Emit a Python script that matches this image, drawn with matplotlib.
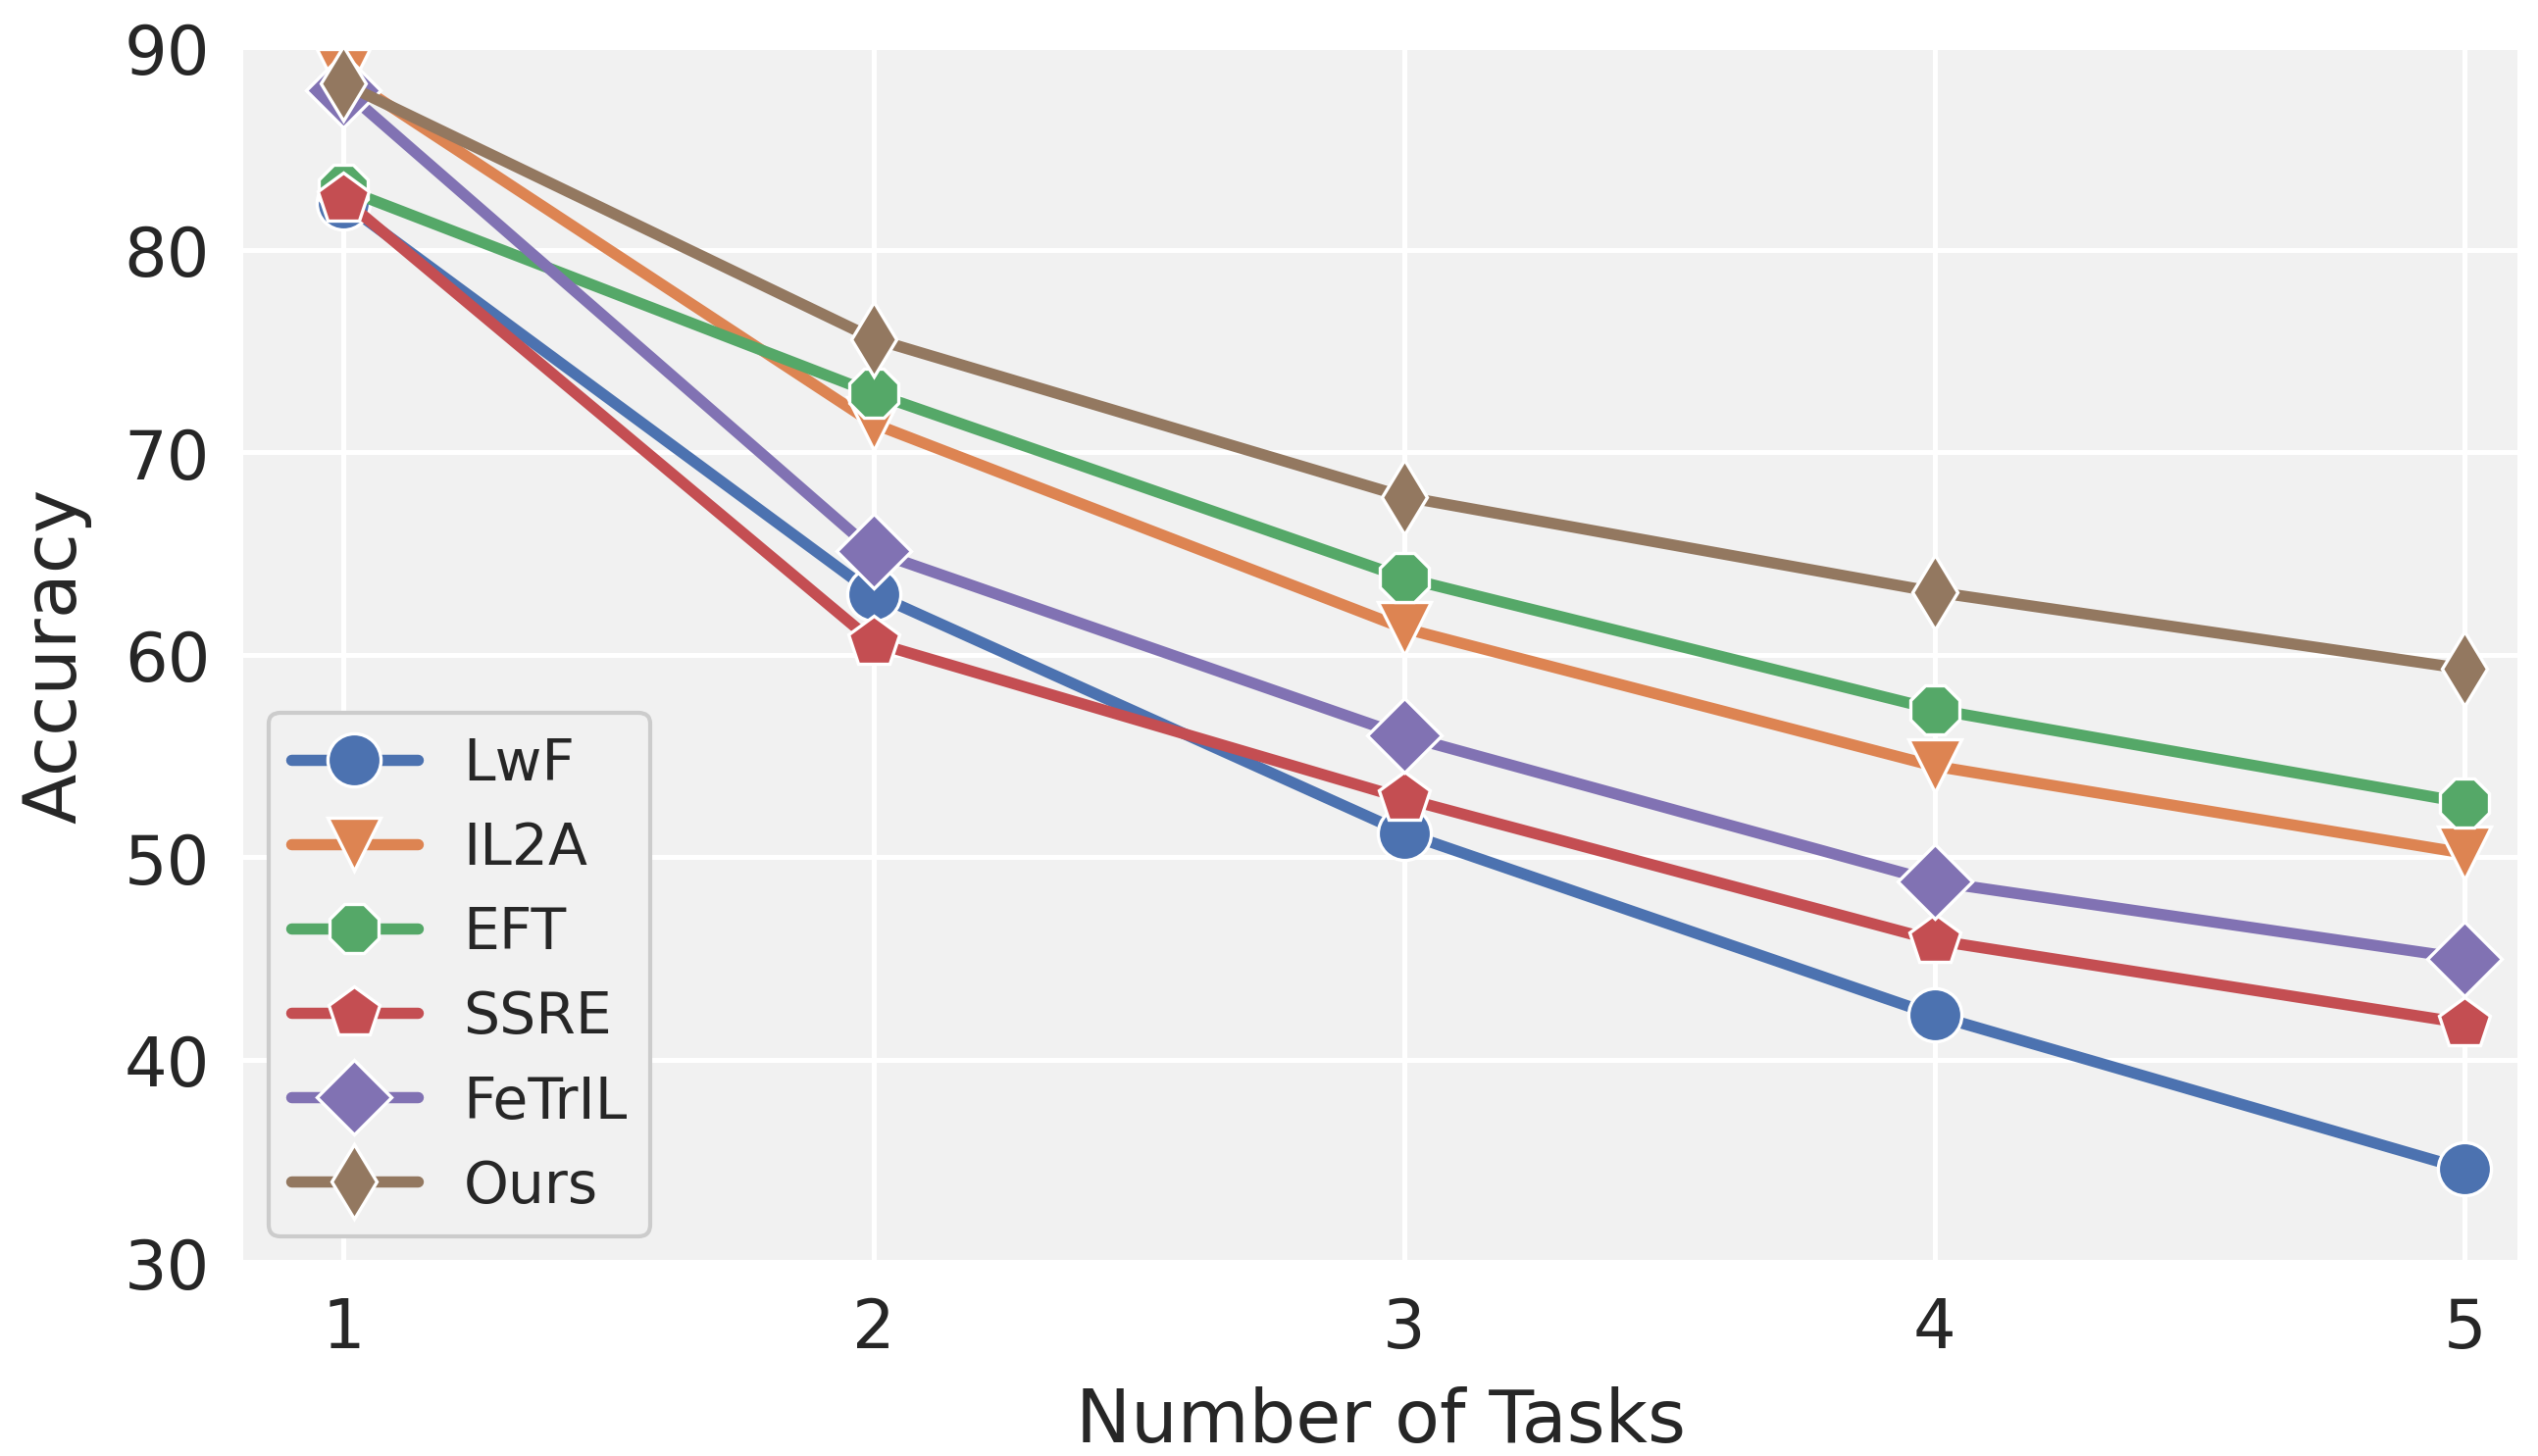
"""Accuracy vs. number of tasks for incremental-learning methods."""

import matplotlib

matplotlib.use("Agg")
import matplotlib.pyplot as plt
import numpy as np

plt.rcParams.update(
    {
        "font.family": ["DejaVu Sans"],
        "axes.facecolor": "#f1f1f1",
        "axes.edgecolor": "white",
        "axes.grid": True,
        "grid.color": "white",
        "grid.linewidth": 1.2,
        "axes.axisbelow": True,
        "text.color": "#262626",
        "axes.labelcolor": "#262626",
        "xtick.color": "#262626",
        "ytick.color": "#262626",
    }
)

tasks = [1, 2, 3, 4, 5]
methods = ["LwF", "IL2A", "EFT", "SSRE", "FeTrIL", "Ours"]
lwf = [82.3, 63.0, 51.2, 42.2, 34.6]
il2a = [88.6, 71.4, 61.3, 54.5, 50.2]
eft = [83.0, 72.9, 63.8, 57.3, 52.7]
ssre = [82.5, 60.6, 52.9, 45.9, 41.8]
fetril = [87.9, 65.1, 56.0, 48.8, 45.0]
ours = [88.2, 75.6, 67.8, 63.1, 59.3]

series = [lwf, il2a, eft, ssre, fetril, ours]
colors = ["#4c72b0", "#dd8452", "#55a868", "#c44e52", "#8172b3", "#937860"]
markers = ["o", "v", "8", "p", "D", "d"]

fig = plt.figure(figsize=(8.627, 4.953), dpi=300)
ax = fig.add_axes([0.0957, 0.133, 0.8963, 0.834])

for name, vals, c, m in zip(methods, series, colors, markers):
    ax.plot(
        tasks,
        vals,
        color=c,
        linewidth=2.75,
        solid_capstyle="round",
        marker=m,
        markersize=13,
        markeredgecolor="white",
        markeredgewidth=0.8,
        label=name,
    )

ax.set_xlim(0.81, 5.1)
ax.set_ylim(30, 90)
ax.set_xticks(tasks)
ax.set_yticks(np.arange(30, 91, 10))
ax.tick_params(axis="both", labelsize=16.5, length=0, pad=8)
ax.set_xlabel("Number of Tasks", fontsize=18, labelpad=6)
ax.set_ylabel("Accuracy", fontsize=18, labelpad=8)
for spine in ax.spines.values():
    spine.set_visible(False)

leg = ax.legend(
    loc="lower left",
    fontsize=14,
    handlelength=2.2,
    handletextpad=0.8,
    borderaxespad=0.45,
    labelspacing=0.5,
    frameon=True,
    fancybox=True,
    facecolor="#f1f1f1",
    edgecolor="#cccccc",
    framealpha=1.0,
)
leg.get_frame().set_linewidth(1.0)

fig.savefig("out.png", dpi=300, facecolor="white")
